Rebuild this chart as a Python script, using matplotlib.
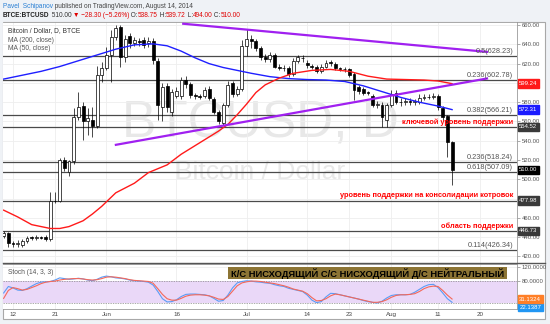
import numpy as np
import pandas as pd
import matplotlib
matplotlib.use("Agg")
import matplotlib.pyplot as plt
import matplotlib.dates as mdates
from matplotlib.lines import Line2D
from matplotlib.patches import Rectangle

W, H = 550, 324
FAM = ["Liberation Sans", "DejaVu Sans"]
plt.rcParams["font.family"] = FAM

# ---------------- data ----------------
dates = pd.date_range("2014-05-10", "2014-08-14", freq="D")
opens = [441, 444, 434, 433, 432, 436, 439.5, 439, 440, 440.5, 438, 477, 478, 520, 508, 518.5, 565, 576, 560, 562, 555.5, 608,
         615, 629, 648, 657.5, 627, 648.5, 641, 644, 644.5, 641, 643, 623, 575.5, 597, 570, 586, 586, 603, 599, 587, 586, 586,
         594, 583.5, 570, 558, 577, 599.5, 589, 594,
         638, 646, 643, 636, 627, 625, 629, 617, 616, 615, 609, 623, 626, 621, 618, 617, 612.7, 617, 621, 620, 615, 614.5, 614,
         609, 596, 594, 590, 586.5, 577, 577, 562,
         577, 590, 580.6, 580, 581, 580.5, 580.6, 584, 585, 585.8, 586, 574, 565.5, 538.75]
highs = [446, 445, 436, 437, 438, 441, 441, 442, 441, 442, 487, 487, 522, 523, 520, 573.5, 591, 580, 573.5, 575, 617.5, 622,
         637.5, 655, 660, 660, 650, 652, 648, 647, 648, 648, 647, 626, 600, 600, 594, 596, 606, 607, 601, 590, 589, 596,
         597, 585, 572, 579, 602, 602, 597, 645,
         656, 650, 646, 638, 630, 632, 631, 620, 619, 618, 626, 629, 629, 624, 620, 619, 620, 624, 624, 622, 617, 617, 616,
         611, 598, 596, 592, 589, 581, 580, 579,
         593, 593, 584, 584, 584, 583, 588, 588, 589, 590, 589, 576, 567, 539.72]
lows = [439, 430, 430, 430, 430, 434, 437, 437, 438, 436, 436, 475, 476, 509, 503, 516, 562, 541, 546, 544, 553, 601,
        613, 601, 645, 617, 622, 636, 638, 638, 636, 637, 620, 561.5, 560, 570, 566, 584, 583, 595, 584, 583, 583, 584,
        582, 568, 557, 556, 575, 585, 586, 592,
        628, 636, 633, 624, 622, 622, 615, 613, 612, 606, 607, 621, 622, 616, 614, 610, 610, 615, 618, 613, 612, 611, 606,
        582, 589, 587, 587, 575, 574, 554.5, 554.5,
        575, 578, 576, 577, 577, 577, 578, 582, 583, 583, 572, 562, 523.5, 494.0]
closes = [444, 434.3, 433, 434, 436, 439.5, 439, 440, 439.5, 438, 477, 478, 520, 511.5, 518.5, 565, 575.5, 560, 564, 555.5, 608, 615,
          629, 648, 656.6, 627, 646, 641, 644.5, 642, 639.4, 644, 624, 577, 596, 575, 591, 592, 603, 599, 587.5, 586, 585.8, 593,
          584, 570, 560, 577, 598, 589, 594, 638,
          646, 643, 636, 627, 624.5, 629, 617, 616, 615, 609, 623, 626.5, 625.5, 618.5, 617, 612.7, 617, 621, 620.5, 615, 614.5, 614,
          608.6, 592.7, 592, 590, 589.5, 577, 577.5, 565, 577,
          589, 580.6, 580, 581, 580.5, 581, 584, 585, 585.8, 586.4, 574.7, 565, 538.3, 510.0]

ma_blue_dates = ["2014-05-10", "2014-05-14", "2014-05-18", "2014-05-22", "2014-05-26", "2014-05-30", "2014-06-03",
                 "2014-06-07", "2014-06-11", "2014-06-14", "2014-06-17", "2014-06-20", "2014-06-23", "2014-06-26",
                 "2014-06-29", "2014-07-02", "2014-07-06", "2014-07-10", "2014-07-14", "2014-07-18", "2014-07-22",
                 "2014-07-26", "2014-07-30", "2014-08-03", "2014-08-07", "2014-08-11", "2014-08-14"]
ma_blue = [604, 608, 612, 617, 623, 629, 635, 639.5, 640.5, 638.5, 633, 626, 620, 616, 613, 610, 606.5, 604.5,
           603.5, 603, 601.5, 597, 591, 585, 580, 576, 572.31]

ma_red_dates = ["2014-05-10", "2014-05-13", "2014-05-16", "2014-05-20", "2014-05-22", "2014-05-24", "2014-05-27",
                "2014-05-29", "2014-05-31", "2014-06-03", "2014-06-05", "2014-06-07", "2014-06-10", "2014-06-14",
                "2014-06-17", "2014-06-21", "2014-06-25", "2014-06-27", "2014-06-29", "2014-07-01", "2014-07-03",
                "2014-07-05", "2014-07-08", "2014-07-11", "2014-07-15", "2014-07-19", "2014-07-23", "2014-07-27",
                "2014-07-31", "2014-08-04", "2014-08-08", "2014-08-11", "2014-08-14"]
ma_red = [468, 461, 453, 449, 449, 451, 457, 464, 472, 486, 491, 496, 507, 515, 526, 538, 550, 557, 567, 578, 590,
          598, 605, 610, 613, 614, 612, 607, 604, 603.5, 603, 602, 599.24]

stoch_k = [48, 66, 62, 56, 55, 60, 67, 74, 78, 79, 80, 84, 90, 88, 86, 87, 89, 87, 84, 82, 86, 92, 95, 93, 90, 89, 87,
           84, 82, 81, 80, 78, 70, 52, 32, 23, 24, 29, 38, 44, 45, 45, 44, 43, 40, 33, 25, 27, 42, 62, 76, 80, 82, 81,
           79, 78, 76, 75, 71, 68, 66, 61, 58, 55, 52, 42, 28, 21, 24, 37, 47, 46, 43, 40, 37, 34, 31, 27, 24, 22, 20,
           25, 34, 41, 43, 43, 43, 44, 50, 58, 66, 71, 72, 63, 48, 32, 22]
stoch_d = [33, 55, 63, 60, 56, 58, 63, 68, 74, 78, 80, 81, 84, 86, 87, 88, 88, 87, 85, 84, 85, 88, 92, 93, 92, 90, 88,
           85, 83, 82, 81, 80, 75, 60, 44, 32, 28, 28, 33, 39, 42, 43, 43, 42, 40, 36, 31, 30, 38, 53, 68, 76, 79, 81,
           81, 80, 78, 76, 74, 71, 68, 64, 59, 56, 53, 46, 35, 26, 27, 32, 40, 45, 43, 40, 37, 34, 31, 28, 25, 22, 22,
           24, 29, 36, 41, 43, 43, 44, 46, 52, 60, 65, 67, 66, 55, 42, 31.1324]

trend_down_dates = ["2014-06-17 05:00", "2014-08-21 17:00"]
trend_down = [661.5, 632.1]
trend_up_dates = ["2014-06-02 19:00", "2014-08-21 17:00"]
trend_up = [535.6, 604.8]

levels = [628.23, 602.78, 566.21, 554.52, 518.24, 507.09, 477.98, 446.73, 426.34]
fib_labels = ["0.5(628.23)", "0.236(602.78)", "0.382(566.21)", "0.236(518.24)", "0.618(507.09)", "0.114(426.34)"]
fib_values = [628.23, 602.78, 566.21, 518.24, 507.09, 426.34]
notes = ["ключевой уровень поддержки", "уровень поддержки на консолидации котровок", "область поддержки"]
note_values = [554.52, 477.98, 446.73]

box_values = [599.24, 572.31, 554.52, 510.00, 477.98, 446.73]
box_colors = ["#ff1a1a", "#1a1aff", "#3a3a3a", "#000000", "#3a3a3a", "#3a3a3a"]

stoch_box_texts = ["22.1387", "31.1324"]
stoch_box_colors = ["#2196f3", "#ff7f27"]

xtick_dates = ["2014-05-12", "2014-05-21", "2014-06-01", "2014-06-16", "2014-07-01", "2014-07-14", "2014-07-23",
               "2014-08-01", "2014-08-11", "2014-08-20"]
xtick_labels = ["12", "21", "Jun", "16", "Jul", "14", "23", "Aug", "11", "20"]
price_ticks = [420, 440, 460, 480, 500, 520, 540, 560, 580, 600, 620, 640, 660]
hidden_price_ticks = [480, 600]  # covered by the price boxes in the reference

# ---------------- figure ----------------
fig = plt.figure(figsize=(W / 100, H / 100), dpi=100, facecolor="#eff2f6")


def fx(px):
    return px / W


def fy(py):
    return 1 - py / H


# white chart frame (behind the axes)
fig.patches.append(Rectangle((fx(2.5), fy(319)), fx(545) - fx(2.5), fy(22) - fy(319), transform=fig.transFigure,
                             facecolor="white", edgecolor="#a8a8a8", lw=0.8, zorder=-5))

L, R, T, B = 3, 517, 22, 263
ax = fig.add_axes([fx(L), fy(B), fx(R) - fx(L), fy(T) - fy(B)])
ax2 = fig.add_axes([fx(L), fy(309), fx(R) - fx(L), fy(263.5) - fy(309)], sharex=ax)

xd = mdates.date2num(dates)
base = mdates.date2num(pd.Timestamp("2014-05-12"))
ax.set_xlim(base - 2.14, base + 107.9)
ax.set_ylim(413.2, 663.2)

xt = mdates.date2num(pd.to_datetime(xtick_dates))
for a in (ax, ax2):
    a.set_facecolor("white")
    a.set_xticks(xt)
    a.grid(True, color="#eeeeee", lw=0.6, zorder=0)
    a.set_axisbelow(True)
    for s in a.spines.values():
        s.set_color("#9a9a9a")
        s.set_linewidth(0.6)
    a.spines["left"].set_visible(False)
    a.yaxis.tick_right()
    a.tick_params(axis="y", length=2, width=0.5, color="#888", labelsize=4.3, labelcolor="#555", pad=1.5)

ax.tick_params(axis="x", length=0, labelbottom=False)
ax.set_yticks(price_ticks)
ax.set_yticklabels(["" if v in hidden_price_ticks else f"{v:.2f}" for v in price_ticks])

# watermark
ax.text(0.5, 0.577, "BTCUSD, D", transform=ax.transAxes, fontsize=37, color="#e8e8e8", ha="center", va="center", zorder=0.5)
ax.text(0.5, 0.378, "Bitcoin / Dollar", transform=ax.transAxes, fontsize=19, color="#e8e8e8", ha="center", va="center",
        zorder=0.5)

# horizontal levels
for v in levels:
    ax.axhline(v, color="#4a4a4a", lw=0.9, zorder=2)

# candles
o = np.array(opens, float)
c = np.array(closes, float)
hi = np.array(highs, float)
lo = np.array(lows, float)
up = c >= o
ax.vlines(xd, lo, hi, color="black", lw=0.5, zorder=3)
ax.bar(xd, np.maximum(np.abs(c - o), 0.7), bottom=np.minimum(o, c), width=0.62,
       color=np.where(up, "white", "black"), edgecolor="black", linewidth=0.5, zorder=3.5)

# moving averages
ax.plot(mdates.date2num(pd.to_datetime(ma_blue_dates)), ma_blue, color="#1f1fff", lw=1.0, zorder=4)
ax.plot(mdates.date2num(pd.to_datetime(ma_red_dates)), ma_red, color="#ff1a1a", lw=1.0, zorder=4)

# trend lines
ax.plot(mdates.date2num(pd.to_datetime(trend_down_dates)), trend_down, color="#a020f0", lw=1.6, zorder=4.5,
        solid_capstyle="butt")
ax.plot(mdates.date2num(pd.to_datetime(trend_up_dates)), trend_up, color="#a020f0", lw=1.6, zorder=4.5,
        solid_capstyle="butt")

# fib labels and notes
xr = (513 - L) / (R - L)
for s, v in zip(fib_labels, fib_values):
    ax.annotate(s, xy=(xr, v), xycoords=("axes fraction", "data"), xytext=(0, 0.8), textcoords="offset points",
                ha="right", va="bottom", fontsize=5.3, color="#555555", zorder=6)
for s, v in zip(notes, note_values):
    ax.annotate(s, xy=(xr, v), xycoords=("axes fraction", "data"), xytext=(0, 0.8), textcoords="offset points",
                ha="right", va="bottom", fontsize=5.3, color="#ff0000", fontweight="bold", zorder=6)

# price boxes
for v, col in zip(box_values, box_colors):
    ax.annotate(f"{v:.2f}", xy=(1, v), xycoords=("axes fraction", "data"), xytext=(1.6, 0),
                textcoords="offset points", ha="left", va="center", fontsize=4.3, color="white",
                bbox=dict(boxstyle="square,pad=0.28", fc=col, ec=col), annotation_clip=False, zorder=10)

# legend text
lx = 5 / (R - L)
ax.text(lx, 1 - (31 - T) / (B - T), "Bitcoin / Dollar, D, BTCE", transform=ax.transAxes,
        fontsize=4.8, color="#333333", ha="left", va="center", zorder=6)
ax.text(lx, 1 - (40 - T) / (B - T), "MA (200, close)", transform=ax.transAxes,
        fontsize=4.8, color="#555555", ha="left", va="center", zorder=6)
ax.text(lx, 1 - (48.5 - T) / (B - T), "MA (50, close)", transform=ax.transAxes,
        fontsize=4.8, color="#555555", ha="left", va="center", zorder=6)

# ---------------- stochastic ----------------
ax2.set_ylim(3.4, 130)
ax2.axhspan(20, 80, color="#ead8f8", zorder=0.6, lw=0)
ax2.axhline(80, color="#8a8a8a", lw=0.5, ls=(0, (2, 1.5)), zorder=1)
ax2.axhline(20, color="#8a8a8a", lw=0.5, ls=(0, (2, 1.5)), zorder=1)
ax2.plot(xd, stoch_k, color="#5b9cf6", lw=0.8, zorder=3)
ax2.plot(xd, stoch_d, color="#f4685a", lw=0.8, zorder=3)
ax2.set_yticks([40, 80, 120])
ax2.set_yticklabels(["", "80.0000", "120.0000"])
ax2.set_xticklabels(xtick_labels)
ax2.tick_params(axis="x", length=0, labelsize=4.5, labelcolor="#444444", pad=2.5)
ax2.text(lx, 0.8, "Stoch (14, 3, 3)", transform=ax2.transAxes, fontsize=4.8, color="#555555",
         ha="left", va="center", zorder=6)
# orange box at the %D value, blue box stacked just beneath it (as TradingView does)
box_orange = ax2.annotate(stoch_box_texts[1], xy=(1, stoch_d[-1]), xycoords=("axes fraction", "data"),
                          xytext=(1.6, 0), textcoords="offset points", ha="left", va="center", fontsize=4.3,
                          color="white", bbox=dict(boxstyle="square,pad=0.28", fc=stoch_box_colors[1],
                                                   ec=stoch_box_colors[1]), annotation_clip=False, zorder=11)
ax2.annotate(stoch_box_texts[0], xy=(1, stoch_d[-1]), xycoords=("axes fraction", "data"),
             xytext=(1.6, -5.9), textcoords="offset points", ha="left", va="center", fontsize=4.3,
             color="white", bbox=dict(boxstyle="square,pad=0.28", fc=stoch_box_colors[0], ec=stoch_box_colors[0]),
             annotation_clip=False, zorder=10)

# label box in stoch panel
fig.patches.append(Rectangle((fx(228), fy(279)), fx(507) - fx(228), fy(267) - fy(279), transform=fig.transFigure,
                             facecolor="#8c7434", edgecolor="none", zorder=5))
box_txt = fig.text(fx(367.5), fy(273.3), "К/С НИСХОДЯЩИЙ С/С НИСХОДЯЩИЙ Д/С НЕЙТРАЛЬНЫЙ", fontsize=6.5,
                   fontweight="bold", color="black", ha="center", va="center", zorder=6)

# separator between panels
fig.add_artist(Line2D([fx(3), fx(545)], [fy(263.3), fy(263.3)], color="#555555", lw=1.0))

# ---------------- header ----------------
fig.canvas.draw()
r = fig.canvas.get_renderer()

wb = box_txt.get_window_extent(renderer=r).width
box_txt.set_fontsize(box_txt.get_fontsize() * 274 / wb)


def seq(x, y, parts, size):
    for s, col, wt in parts:
        t = fig.text(fx(x), fy(y), s, color=col, fontsize=size, fontweight=wt, ha="left", va="center",
                     family=FAM)
        x += t.get_window_extent(renderer=r).width


seq(3, 6, [("Pavel  Schipanov", "#2a7fd4", "normal"),
           (" published on TradingView.com, August 14, 2014", "#444444", "normal")], 4.7)
seq(3, 15.3, [("BTCE:BTCUSD", "#222222", "bold"), (" 510.00 ", "#333333", "normal"),
              ("▼ −28.30 (−5.26%)", "#e00000", "normal"), (" O:", "#333333", "normal"), ("538.75", "#e00000", "normal"),
              (" H:", "#333333", "normal"), ("539.72", "#e00000", "normal"), (" L:", "#333333", "normal"),
              ("494.00", "#e00000", "normal"), (" C:", "#333333", "normal"), ("510.00", "#e00000", "normal")], 4.7)

fig.savefig("out.png", dpi=100, facecolor=fig.get_facecolor())
